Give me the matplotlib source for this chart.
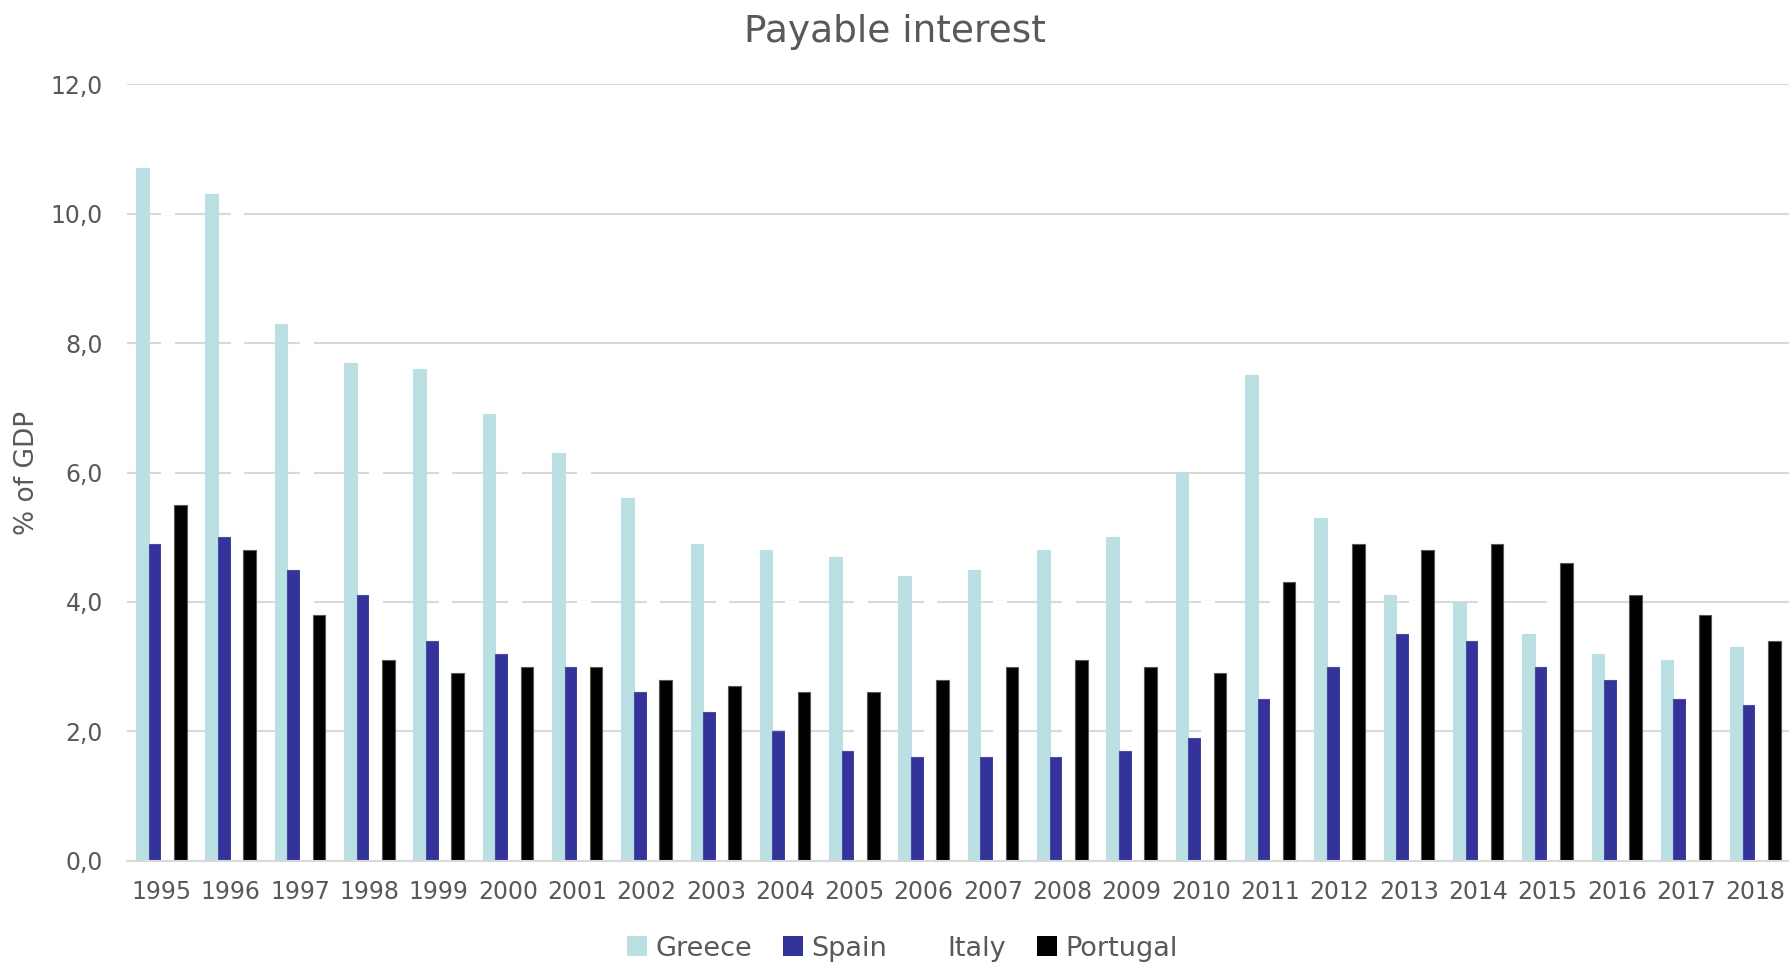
import matplotlib.pyplot as plt
import numpy as np
from matplotlib.ticker import FuncFormatter, MultipleLocator
from matplotlib.patches import Patch

# data (% of GDP)
years = ['1995', '1996', '1997', '1998', '1999', '2000', '2001', '2002', '2003', '2004', '2005', '2006',
         '2007', '2008', '2009', '2010', '2011', '2012', '2013', '2014', '2015', '2016', '2017', '2018']
greece = [10.7, 10.3, 8.3, 7.7, 7.6, 6.9, 6.3, 5.6, 4.9, 4.8, 4.7, 4.4,
          4.5, 4.8, 5.0, 6.0, 7.5, 5.3, 4.1, 4.0, 3.5, 3.2, 3.1, 3.3]
spain = [4.9, 5.0, 4.5, 4.1, 3.4, 3.2, 3.0, 2.6, 2.3, 2.0, 1.7, 1.6,
         1.6, 1.6, 1.7, 1.9, 2.5, 3.0, 3.5, 3.4, 3.0, 2.8, 2.5, 2.4]
italy = [11.4, 11.3, 9.2, 7.9, 6.6, 6.3, 6.2, 5.5, 5.0, 4.7, 4.6, 4.6,
         4.9, 5.0, 4.6, 4.4, 4.7, 5.2, 4.8, 4.6, 4.1, 3.9, 3.8, 3.6]
portugal = [5.5, 4.8, 3.8, 3.1, 2.9, 3.0, 3.0, 2.8, 2.7, 2.6, 2.6, 2.8,
            3.0, 3.1, 3.0, 2.9, 4.3, 4.9, 4.8, 4.9, 4.6, 4.1, 3.8, 3.4]

series = ['Greece', 'Spain', 'Italy', 'Portugal']
values = [greece, spain, italy, portugal]
colors = ['#BBE0E3', '#333399', '#FFFFFF', '#000000']
edges = ['#BBE0E3', '#4a4aa8', '#FFFFFF', '#595959']

text_color = '#595959'
grid_color = '#D9D9D9'

fig = plt.figure(figsize=(17.9, 9.65), dpi=100)
ax = fig.add_axes([0.0708, 0.1081, 1 - 0.0708, 0.9126 - 0.1081])

# 柱状图
bar_width = 0.182
indices = np.arange(len(years))
for i, (name, vals) in enumerate(zip(series, values)):
    offset = (i - 1.5) * bar_width
    ax.bar(indices + offset, vals, bar_width, color=colors[i], edgecolor=edges[i],
           linewidth=0.8, label=name, zorder=2)

ax.set_xlim(-0.5, len(years) - 0.5)
ax.set_ylim(0, 12)
ax.yaxis.set_major_locator(MultipleLocator(2))
ax.yaxis.set_major_formatter(FuncFormatter(lambda x, _: f'{x:.1f}'.replace('.', ',')))
ax.set_xticks(indices)
ax.set_xticklabels(years)

ax.tick_params(axis='x', labelsize=17, colors=text_color, length=0, pad=14)
ax.tick_params(axis='y', labelsize=17, colors=text_color, length=0, pad=17)

# 网格线在柱子下面
ax.set_axisbelow(True)
ax.grid(True, axis='y', color=grid_color, linewidth=1.5, zorder=0)
for side in ['top', 'right', 'left']:
    ax.spines[side].set_visible(False)
ax.spines['bottom'].set_color(grid_color)
ax.spines['bottom'].set_linewidth(1.5)

ax.set_ylabel('% of GDP', fontsize=19, color=text_color)
ax.yaxis.set_label_coords(-0.052, 0.5)

fig.text(0.5, 1 - 32 / 965, 'Payable interest', ha='center', va='center', fontsize=27, color=text_color)

# 图例
handles = [Patch(facecolor=c, edgecolor='none') for c in colors]
leg = fig.legend(handles, series, loc='center', bbox_to_anchor=(0.504, 0.017), ncol=4, frameon=False,
                 fontsize=19.5, handlelength=0.75, handleheight=0.75, handletextpad=0.3, columnspacing=1.15)
for t in leg.get_texts():
    t.set_color(text_color)

plt.savefig('out.png', dpi=100)
plt.close()
